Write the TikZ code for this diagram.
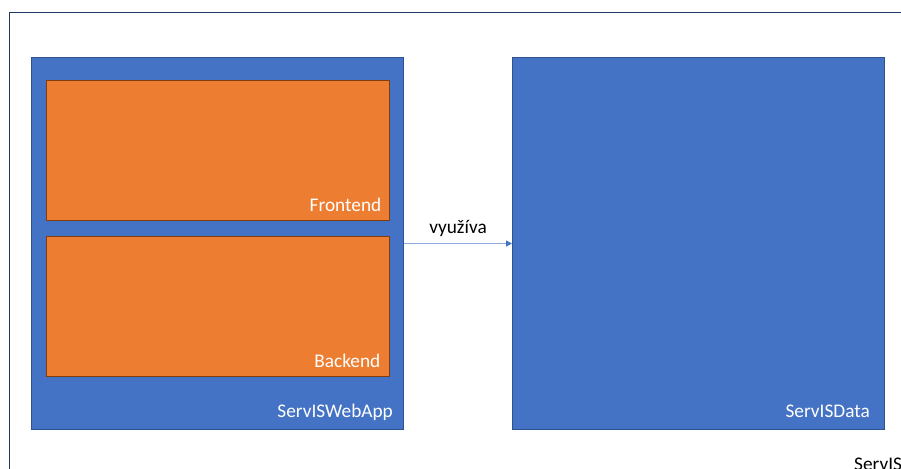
\documentclass[tikz,border=0pt]{standalone}
\usepackage{fontspec}
\setmainfont{Carlito}
\usetikzlibrary{arrows.meta}
\definecolor{cblue}{HTML}{4472C4}
\definecolor{cblueedge}{HTML}{2F528F}
\definecolor{corange}{HTML}{ED7D31}
\definecolor{corangeedge}{HTML}{843C0C}
\definecolor{outeredge}{HTML}{203864}
\definecolor{arrowc}{HTML}{8FAADC}
\tikzset{
  bluebox/.style={draw=cblueedge, fill=cblue, line width=1pt, inner sep=0pt},
  orangebox/.style={draw=corangeedge, fill=corange, line width=1pt, inner sep=0pt},
  boxlabel/.style={text=white, inner sep=0pt, anchor=base east, font=\fontsize{19.3}{23}\selectfont},
  plainlabel/.style={text=black, inner sep=0pt, font=\fontsize{19.3}{23}\selectfont},
}
\begin{document}
\begin{tikzpicture}[x=1pt,y=-1pt]
\useasboundingbox (0,0) rectangle (901,468);
\clip (0,0) rectangle (901,468);
\fill[white] (0,0) rectangle (901,468);
% outer container
\node[draw=outeredge, line width=1.5pt, minimum width=950pt, minimum height=520pt, anchor=north west, inner sep=0pt] (outer) at (8.5,12) {};
\node[plainlabel, anchor=base west] (outerlabel) at (854,470) {ServIS};
% boxes
\node[bluebox, minimum width=372pt, minimum height=372pt, anchor=north west] (webapp) at (31,57) {};
\node[bluebox, minimum width=372pt, minimum height=372pt, anchor=north west] (data) at (512,57) {};
\node[orangebox, minimum width=343pt, minimum height=140pt, anchor=north west] (frontend) at (45.5,80) {};
\node[orangebox, minimum width=343pt, minimum height=140pt, anchor=north west] (backend) at (45.5,236) {};
% labels
\node[boxlabel] (frontendlabel) at ([xshift=-8pt,yshift=10pt]frontend.south east) {Frontend};
\node[boxlabel] (backendlabel) at ([xshift=-9pt,yshift=10pt]backend.south east) {Backend};
\node[boxlabel] (webapplabel) at ([xshift=-11pt,yshift=13pt]webapp.south east) {ServISWebApp};
\node[boxlabel] (datalabel) at ([xshift=-15pt,yshift=13pt]data.south east) {ServISData};
% connector
\draw[arrowc, line width=1pt, -{Triangle[length=6pt,width=6pt,fill=cblue,color=cblue]}] (webapp.east) -- (data.west)
  node[midway, plainlabel, anchor=base, yshift=10pt] (uses) {využíva};
\end{tikzpicture}
\end{document}
